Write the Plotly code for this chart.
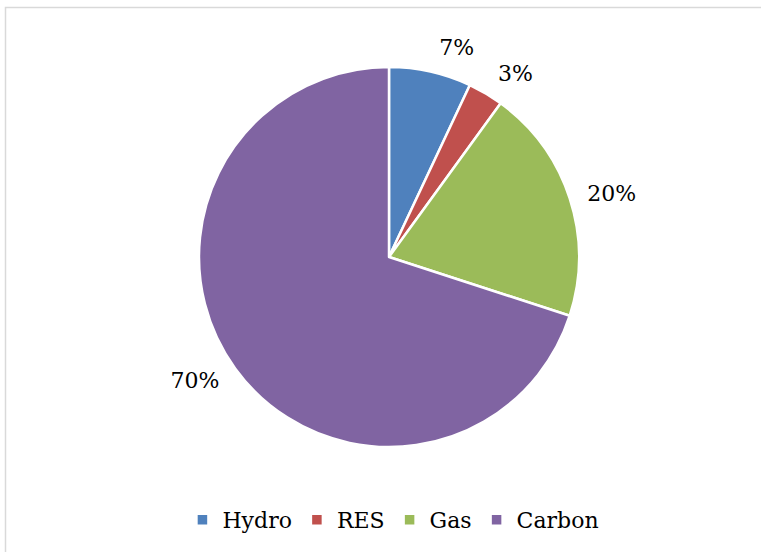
import plotly.graph_objects as go

categories = ["Hydro", "RES", "Gas", "Carbon"]
shares = [7, 3, 20, 70]
colors = ["#4F81BD", "#C0504D", "#9BBB59", "#8064A2"]

W, H = 761, 552
cx, cy, r = 389, 257, 190
r_lab = 202
FONT = "DejaVu Serif"
FS = 22


def dom(rad):
    return dict(x=[(cx - rad) / W, (cx + rad) / W],
                y=[(H - cy - rad) / H, (H - cy + rad) / H])


def label_pie(show):
    tmpl = ["%{percent:.0%}" if s else "" for s in show]
    return go.Pie(
        labels=categories, values=shares, sort=False, direction="clockwise", rotation=0,
        marker=dict(colors=["rgba(0,0,0,0)"] * 4, line=dict(width=0)),
        textposition="outside", texttemplate=tmpl,
        outsidetextfont=dict(family=FONT, size=FS, color="black"),
        textfont=dict(family=FONT, size=FS, color="black"),
        domain=dom(r_lab), automargin=False, showlegend=False, hoverinfo="skip",
    )


main_pie = go.Pie(
    labels=categories, values=shares, sort=False, direction="clockwise", rotation=0,
    marker=dict(colors=colors, line=dict(color="white", width=2.5)),
    textinfo="none",
    domain=dom(r), automargin=False, showlegend=True,
    hoverinfo="label+percent",
)

fig = go.Figure([label_pie([1, 0, 1, 0]), label_pie([0, 1, 0, 1]), main_pie])

fig.update_layout(
    width=W, height=H,
    margin=dict(l=0, r=0, t=0, b=0),
    paper_bgcolor="white",
    plot_bgcolor="white",
    font=dict(family=FONT, size=FS, color="black"),
    legend=dict(
        orientation="h",
        x=0.517, xanchor="center",
        y=(H - 520) / H, yanchor="middle",
        font=dict(family=FONT, size=FS, color="black"),
        itemwidth=30,
    ),
    shapes=[dict(
        type="rect", xref="paper", yref="paper",
        x0=5.5 / W, x1=1.01, y0=-0.01, y1=(H - 7.5) / H,
        line=dict(color="#D9D9D9", width=1.5),
        fillcolor="rgba(0,0,0,0)",
    )],
)

fig.write_html("out.html", config={"displayModeBar": False},
               post_script="document.body.style.margin='0';document.body.style.padding='0';")
